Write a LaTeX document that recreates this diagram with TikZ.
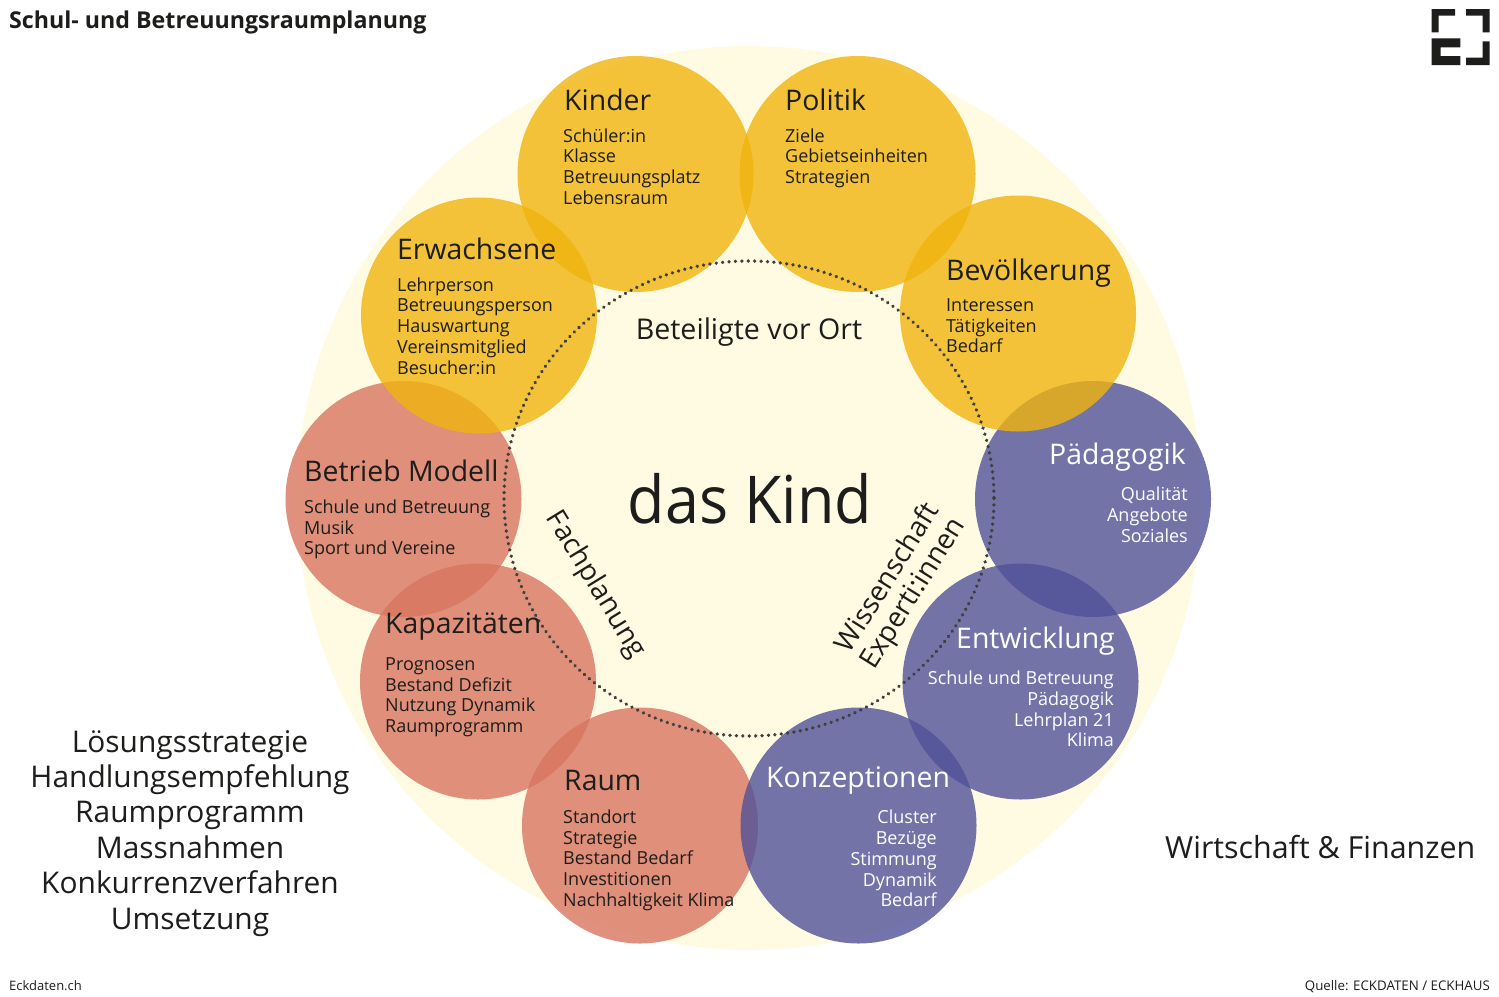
\documentclass[tikz,border=0pt]{standalone}
\usepackage{fontspec}
\setmainfont{Open Sans}
\definecolor{ink}{HTML}{1D1D1B}
\definecolor{halo}{HTML}{FFFBE3}
\definecolor{sun}{HTML}{F0B40E}
\definecolor{clay}{HTML}{D87560}
\definecolor{iris}{HTML}{50529A}
\tikzset{
  disc/.style={circle,minimum size=236pt,inner sep=0pt,fill opacity=.8,text opacity=1},
  sundisc/.style={disc,fill=sun},
  claydisc/.style={disc,fill=clay},
  irisdisc/.style={disc,fill=iris},
  head/.style={inner sep=0pt,anchor=base west,text=ink,font=\fontsize{28.4}{32}\selectfont},
  headw/.style={head,text=white},
  bodyl/.style={inner sep=0pt,anchor=north west,align=left,text=ink,font=\fontsize{18}{20.8}\selectfont},
  bodyr/.style={inner sep=0pt,anchor=north east,align=right,text=white,font=\fontsize{18}{20.8}\selectfont},
  ringlabel/.style={inner sep=0pt,text=ink,font=\fontsize{28.6}{32}\selectfont},
  slantlabel/.style={inner sep=0pt,text=ink,font=\fontsize{27.8}{32}\selectfont},
  logo/.style={fill=ink,draw=none},
}
\begin{document}
\begin{tikzpicture}[x=1pt,y=-1pt]
\useasboundingbox (0,0) rectangle (1499,996);
\fill[white] (0,0) rectangle (1499,996);
\node[circle,fill=halo,minimum size=904pt,inner sep=0pt] (halo) at (749,498) {};
% discs
\node[claydisc] (dBetrieb) at (403.5,499) {};
\node[claydisc] (dKapa) at (478,681.5) {};
\node[claydisc] (dRaum) at (640,825.5) {};
\node[irisdisc] (dKonz) at (858.5,825.5) {};
\node[irisdisc] (dEntw) at (1020.5,681.5) {};
\node[irisdisc] (dPaed) at (1093,499) {};
\node[sundisc] (dKinder) at (635.5,174) {};
\node[sundisc] (dPolitik) at (857.5,174) {};
\node[sundisc] (dErw) at (479,315.5) {};
\node[sundisc] (dBev) at (1018,313.5) {};
% dotted ring
\draw[ink!85,line width=3.7pt,line cap=round,dash pattern=on 0.01pt off 6.41pt] (749,498.5) ellipse (245 and 237.5);
% headings
\node[head] (hKinder) at (564,110) {Kinder};
\node[head] (hPolitik) at (785,110) {Politik};
\node[head] (hErw) at (397,259) {Erwachsene};
\node[head] (hBev) at (946,280) {Bevölkerung};
\node[head] (hBetrieb) at (304,481) {Betrieb Modell};
\node[head] (hKapa) at (385,633) {Kapazitäten};
\node[head] (hRaum) at (564,790) {Raum};
\node[headw] (hPaed) at (1049,464) {Pädagogik};
\node[headw] (hEntw) at (956,648) {Entwicklung};
\node[headw] (hKonz) at (766,787) {Konzeptionen};
% bodies
\node[bodyl] (bKinder) at (563,127.4) {\strut Schüler:in\\Klasse\\Betreuungsplatz\\Lebensraum};
\node[bodyl] (bPolitik) at (785,127.4) {\strut Ziele\\Gebietseinheiten\\Strategien};
\node[bodyl] (bErw) at (397,276.4) {\strut Lehrperson\\Betreuungsperson\\Hauswartung\\Vereinsmitglied\\Besucher:in};
\node[bodyl] (bBev) at (946,296.6) {\strut Interessen\\Tätigkeiten\\Bedarf};
\node[bodyl] (bBetrieb) at (304,498.6) {\strut Schule und Betreuung\\Musik\\Sport und Vereine};
\node[bodyl] (bKapa) at (385,655.6) {\strut Prognosen\\Bestand Defizit\\Nutzung Dynamik\\Raumprogramm};
\node[bodyl] (bRaum) at (563,808.6) {\strut Standort\\Strategie\\Bestand Bedarf\\Investitionen\\Nachhaltigkeit Klima};
\node[bodyr] (bPaed) at (1188,485.8) {\strut Qualität\\Angebote\\Soziales};
\node[bodyr] (bEntw) at (1114,669.8) {\strut Schule und Betreuung\\Pädagogik\\Lehrplan 21\\Klima};
\node[bodyr] (bKonz) at (937,809) {\strut Cluster\\Bezüge\\Stimmung\\Dynamik\\Bedarf};
% centre
\node[inner sep=0pt,anchor=base,text=ink,xscale=.925,font=\fontsize{66}{70}\selectfont] (kind) at (750,523) {das Kind};
\node[ringlabel,anchor=base] (beteiligte) at (749,339) {Beteiligte vor Ort};
\node[slantlabel,rotate=-58.5] (fach) at (595.5,585) {Fachplanung};
\node[slantlabel,rotate=58] (wiss) at (886,577) {Wissenschaft};
\node[slantlabel,rotate=58] (expert) at (914,594) {Experti:innen};
% outer texts
\node[inner sep=0pt,anchor=north,align=center,text=ink,font=\fontsize{29.9}{35.4}\selectfont] (left) at (190,727.2) {\strut Lösungsstrategie\\Handlungsempfehlung\\Raumprogramm\\Massnahmen\\Konkurrenzverfahren\\Umsetzung};
\node[inner sep=0pt,anchor=base west,text=ink,font=\fontsize{30.4}{35}\selectfont] (wf) at (1165,858) {Wirtschaft \& Finanzen};
\node[inner sep=0pt,anchor=base west,text=ink,font=\bfseries\fontsize{23.2}{26}\selectfont] (title) at (9,28) {Schul- und Betreuungsraumplanung};
\node[inner sep=0pt,anchor=base west,text=ink,font=\fontsize{13}{16}\selectfont] (foot) at (9,990) {Eckdaten.ch};
\node[inner sep=0pt,anchor=base east,text=ink,font=\fontsize{13.3}{16}\selectfont] (src) at (1490,990) {Quelle: ECKDATEN / ECKHAUS};
% logo
\fill[logo] (1431.7,9) -- (1455,9) -- (1455,15.7) -- (1438.7,15.7) -- (1438.7,32.3) -- (1431.7,32.3) -- cycle;
\fill[logo] (1466,9) -- (1489.5,9) -- (1489.5,32.3) -- (1482.5,32.3) -- (1482.5,15.7) -- (1466,15.7) -- cycle;
\fill[logo] (1431.7,38.3) -- (1460.3,38.3) -- (1460.3,47.3) -- (1440.7,47.3) -- (1440.7,56) -- (1460.3,56) -- (1460.3,65) -- (1431.7,65) -- cycle;
\fill[logo] (1482.5,41.3) -- (1489.5,41.3) -- (1489.5,65) -- (1466,65) -- (1466,57.7) -- (1482.5,57.7) -- cycle;
\end{tikzpicture}
\end{document}
